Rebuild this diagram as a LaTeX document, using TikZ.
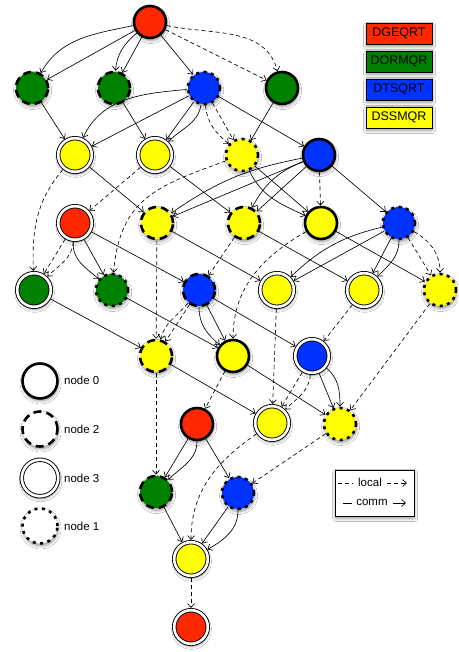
\documentclass[tikz,border=0pt]{standalone}
\usepackage{fontspec}
\setmainfont{Liberation Sans}
\usetikzlibrary{arrows.meta,shadows.blur}
\definecolor{qred}{RGB}{255,40,0}
\definecolor{qgreen}{RGB}{0,130,0}
\definecolor{qblue}{RGB}{0,51,255}
\definecolor{qyellow}{RGB}{255,255,0}
\tikzset{
  shd/.style={blur shadow={shadow xshift=0.6pt,shadow yshift=-2.5pt,shadow blur radius=3pt,shadow blur steps=8}},
  task/.style={circle,inner sep=0pt,minimum size=32pt,shd},
  own0/.style={task,draw=black,line width=2.6pt,outer sep=1.3pt},
  own2/.style={task,draw=black,line width=2.6pt,dash pattern=on 8pt off 5pt,outer sep=1.3pt},
  own1/.style={task,draw=black,line width=2.6pt,dash pattern=on 3pt off 4.5pt,outer sep=1.3pt},
  own3/.style={task,draw=black,line width=0.9pt,double=white,double distance=2.6pt,minimum size=33.6pt,outer sep=2.2pt},
  comm/.style={line width=0.65pt,-{Straight Barb[length=4pt,width=7pt]}},
  local/.style={comm,dash pattern=on 4pt off 3pt},
  kbox/.style={draw=black,line width=0.8pt,minimum width=66pt,minimum height=21pt,inner sep=0pt,shd},
  txt/.style={font=\fontsize{11.5}{13}\selectfont,inner sep=0pt},
  ktxt/.style={font=\fontsize{12.5}{14}\selectfont}
}
\begin{document}
\begin{tikzpicture}[x=1pt,y=1pt]
\useasboundingbox (0,0) rectangle (458,652);
\fill[white] (0,0) rectangle (458,652);
% tasks
\node[own0,fill=qred] (R0) at (150,630) {};
\node[own2,fill=qgreen] (G1a) at (32,564) {};
\node[own2,fill=qgreen] (G1b) at (114,564) {};
\node[own1,fill=qblue] (B1) at (204,564) {};
\node[own0,fill=qgreen] (G1c) at (282,564) {};
\node[own3,fill=qyellow] (Y2a) at (75,497) {};
\node[own3,fill=qyellow] (Y2b) at (155,497) {};
\node[own1,fill=qyellow] (Y2c) at (242,497) {};
\node[own0,fill=qblue] (B2) at (319,497) {};
\node[own3,fill=qred] (R3) at (75,429) {};
\node[own2,fill=qyellow] (Y3a) at (157,429) {};
\node[own2,fill=qyellow] (Y3b) at (244,429) {};
\node[own0,fill=qyellow] (Y3c) at (321,429) {};
\node[own1,fill=qblue] (B3) at (399,429) {};
\node[own3,fill=qgreen] (G4a) at (34,362) {};
\node[own1,fill=qgreen] (G4b) at (112,362) {};
\node[own2,fill=qblue] (B4) at (199,362) {};
\node[own3,fill=qyellow] (Y4a) at (277,362) {};
\node[own3,fill=qyellow] (Y4b) at (364,362) {};
\node[own1,fill=qyellow] (Y4c) at (440,362) {};
\node[own2,fill=qyellow] (Y5a) at (156,296) {};
\node[own0,fill=qyellow] (Y5b) at (233,296) {};
\node[own3,fill=qblue] (B5) at (312,296) {};
\node[own0,fill=qred] (R6) at (197,228) {};
\node[own3,fill=qyellow] (Y6a) at (272,229) {};
\node[own1,fill=qyellow] (Y6b) at (340,228) {};
\node[own2,fill=qgreen] (G7) at (156,160) {};
\node[own1,fill=qblue] (B7) at (238,159) {};
\node[own3,fill=qyellow] (Y8) at (191,93) {};
\node[own3,fill=qred] (R9) at (191,25) {};
% edges
\draw[comm] (R0) to[out=192,in=60] (G1a);
\draw[comm] (R0) -- (G1a);
\draw[comm] (R0) to[out=220,in=85] (G1b);
\draw[comm] (R0) -- (G1b);
\draw[comm] (R0) -- (B1);
\draw[local] (R0) to[out=-12,in=105] (G1c);
\draw[local] (R0) -- (G1c);
\draw[comm] (G1a) -- (Y2a);
\draw[comm] (G1b) -- (Y2b);
\draw[comm] (B1) to[out=185,in=65] (Y2a);
\draw[comm] (B1) -- (Y2a);
\draw[comm] (B1) to[out=260,in=45] (Y2b);
\draw[comm] (B1) -- (Y2b);
\draw[local] (B1) to[out=275,in=140] (Y2c);
\draw[local] (B1) -- (Y2c);
\draw[comm] (B1) -- (B2);
\draw[comm] (G1c) -- (Y2c);
\draw[comm] (Y2a) -- (Y3a);
\draw[local] (Y2a) to[out=230,in=92] (G4a);
\draw[local] (Y2b) -- (R3);
\draw[comm] (Y2b) -- (Y3b);
\draw[local] (Y2c) to[out=200,in=85,looseness=1.2] (G4b);
\draw[comm] (Y2c) to[out=-65,in=155] (Y3c);
\draw[comm] (Y2c) -- (Y3c);
\draw[comm] (B2) to[bend right=12] (Y3a);
\draw[comm] (B2) -- (Y3a);
\draw[comm] (B2) to[bend right=20] (Y3b);
\draw[comm] (B2) -- (Y3b);
\draw[local] (B2) -- (Y3c);
\draw[comm] (B2) -- (B3);
\draw[local] (R3) to[out=265,in=45] (G4a);
\draw[local] (R3) -- (G4a);
\draw[comm] (R3) to[out=265,in=140] (G4b);
\draw[comm] (R3) -- (G4b);
\draw[comm] (R3) -- (B4);
\draw[local] (Y3a) -- (Y5a);
\draw[comm] (Y3a) -- (Y4a);
\draw[local] (Y3b) -- (B4);
\draw[comm] (Y3b) -- (Y4b);
\draw[local] (Y3c) to[out=210,in=90] (Y5b);
\draw[comm] (Y3c) -- (Y4c);
\draw[comm] (B3) to[bend right=15] (Y4a);
\draw[comm] (B3) -- (Y4a);
\draw[comm] (B3) to[out=270,in=45] (Y4b);
\draw[comm] (B3) -- (Y4b);
\draw[local] (B3) to[out=-30,in=90] (Y4c);
\draw[local] (B3) -- (Y4c);
\draw[comm] (G4a) -- (Y5a);
\draw[comm] (G4b) -- (Y5b);
\draw[local] (B4) to[out=230,in=75] (Y5a);
\draw[local] (B4) -- (Y5a);
\draw[comm] (B4) to[out=270,in=140] (Y5b);
\draw[comm] (B4) -- (Y5b);
\draw[comm] (B4) -- (B5);
\draw[local] (Y4a) -- (Y6a);
\draw[local] (Y4b) -- (B5);
\draw[local] (Y4c) -- (Y6b);
\draw[local] (Y5a) -- (G7);
\draw[comm] (Y5a) -- (Y6a);
\draw[local] (Y5b) -- (R6);
\draw[comm] (Y5b) -- (Y6b);
\draw[local] (B5) to[out=265,in=45] (Y6a);
\draw[local] (B5) -- (Y6a);
\draw[comm] (B5) to[out=-40,in=90] (Y6b);
\draw[comm] (B5) -- (Y6b);
\draw[comm] (R6) to[out=270,in=45] (G7);
\draw[comm] (R6) -- (G7);
\draw[comm] (R6) -- (B7);
\draw[local] (Y6a) to[out=215,in=90] (Y8);
\draw[local] (Y6b) -- (B7);
\draw[comm] (G7) -- (Y8);
\draw[comm] (B7) to[out=270,in=30] (Y8);
\draw[comm] (B7) -- (Y8);
\draw[local] (Y8) -- (R9);
% kernel legend
\node[kbox,fill=qred,ktxt] (kGE) at (399,618.5) {DGEQRT};
\node[kbox,fill=qgreen,ktxt] (kOR) at (399,590.5) {DORMQR};
\node[kbox,fill=qblue,ktxt] (kTS) at (399,562.5) {DTSQRT};
\node[kbox,fill=qyellow,ktxt] (kSS) at (399,534.5) {DSSMQR};
% node legend
\node[own0,fill=white,minimum size=35pt] (L0) at (40,271) {};
\node[txt,anchor=west] (T0) at (64,272) {node 0};
\node[own2,fill=white,minimum size=35pt] (L2) at (40,223) {};
\node[txt,anchor=west] (T2) at (64,223) {node 2};
\node[own3,fill=white,minimum size=36.5pt] (L3) at (40,174) {};
\node[txt,anchor=west] (T3) at (64,174) {node 3};
\node[own1,fill=white,minimum size=35pt] (L1) at (40,126) {};
\node[txt,anchor=west] (T1) at (64,126) {node 1};
% edge legend
\node[draw=black,line width=0.8pt,fill=white,minimum width=79pt,minimum height=46pt,inner sep=0pt,shd] (EL) at (374.5,159) {};
\coordinate (la) at (338,169); \coordinate (lb) at (353,169);
\draw[line width=0.65pt,dash pattern=on 4pt off 3pt] (la) -- (lb);
\node[txt] (tl) at (370,169.5) {local};
\coordinate (lc) at (387,169); \coordinate (ld) at (407,169);
\draw[local] (lc) -- (ld);
\coordinate (ca) at (343,149); \coordinate (cb) at (352,149);
\draw[line width=0.65pt] (ca) -- (cb);
\node[txt] (tc) at (372,149.5) {comm};
\coordinate (cc) at (393,149); \coordinate (cd) at (406,149);
\draw[comm] (cc) -- (cd);
\end{tikzpicture}
\end{document}
